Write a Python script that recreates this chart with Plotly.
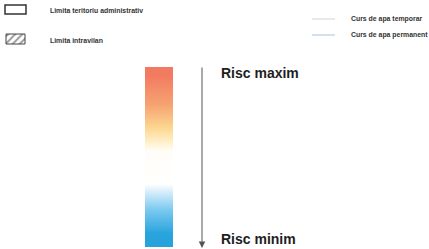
import plotly.graph_objects as go
import numpy as np

# Data: risk scale levels (top = max, bottom = min)
risk_levels = [10, 9, 8, 7, 6, 5, 4, 3, 2, 1, 0]
risk_labels = ["Risc maxim", "Risc minim"]
legend_left = ["Limita teritoriu administrativ", "Limita intravilan"]
legend_right = ["Curs de apa temporar", "Curs de apa permanent"]

colorscale = [
    [0.0, "#26a2dd"],
    [0.04, "#2aa4de"],
    [0.18, "#7ccaf0"],
    [0.29, "#d6edf9"],
    [0.34, "#ffffff"],
    [0.54, "#fffdf8"],
    [0.59, "#fff1cc"],
    [0.68, "#fcd690"],
    [0.82, "#f6a472"],
    [1.0, "#f27a61"],
]

fig = go.Figure()

# gradient bar
n = len(risk_levels)
y0, y1 = 67, 247
yedges = list(np.linspace(y0, y1, n + 1))
fig.add_trace(go.Heatmap(
    x=[145, 173], y=yedges, z=[[v] for v in risk_levels],
    zmin=0, zmax=10, colorscale=colorscale, zsmooth="best", showscale=False,
    hoverinfo="skip",
))

font_big = dict(family="Liberation Sans, Arial", size=14, color="#1e1e1e", weight="bold")
font_small = dict(family="Liberation Sans, Arial", size=6.9, color="#333333", weight="bold")

# arrow
fig.add_annotation(x=202, y=248, ax=202, ay=66, xref="x", yref="y", axref="x", ayref="y",
                   showarrow=True, arrowhead=2, arrowsize=1.3, arrowwidth=1, arrowcolor="#555555", text="")
fig.add_annotation(x=219, y=73, text=risk_labels[0], showarrow=False, xanchor="left", yanchor="middle",
                   font=font_big)
fig.add_annotation(x=219, y=239, text=risk_labels[1], showarrow=False, xanchor="left", yanchor="middle",
                   font=font_big)

# left legend
fig.add_shape(type="rect", x0=5, x1=26, y0=5, y1=14, line=dict(color="#333333", width=1.5), fillcolor="white")
fig.add_trace(go.Scatter(x=[6, 25, 25, 6, 6], y=[34, 34, 44, 44, 34], mode="lines", fill="toself",
                         fillcolor="white", line=dict(color="#444444", width=1),
                         fillpattern=dict(shape="/", fgcolor="#333333", bgcolor="white", size=5, solidity=0.4),
                         hoverinfo="skip", showlegend=False))
fig.add_annotation(x=48, y=10, text=legend_left[0], showarrow=False, xanchor="left", yanchor="middle",
                   font=font_small)
fig.add_annotation(x=48, y=40, text=legend_left[1], showarrow=False, xanchor="left", yanchor="middle",
                   font=font_small)

# right legend
fig.add_shape(type="line", x0=312, x1=335, y0=19, y1=19, line=dict(color="#dde3ea", width=1.5))
fig.add_shape(type="line", x0=312, x1=335, y0=35, y1=35, line=dict(color="#c6d6e6", width=1.5))
fig.add_annotation(x=349, y=19, text=legend_right[0], showarrow=False, xanchor="left", yanchor="middle",
                   font=font_small)
fig.add_annotation(x=349, y=35, text=legend_right[1], showarrow=False, xanchor="left", yanchor="middle",
                   font=font_small)

fig.update_xaxes(range=[0, 429], visible=False, fixedrange=True)
fig.update_yaxes(range=[249, 0], visible=False, fixedrange=True)
fig.update_layout(width=429, height=249, margin=dict(l=0, r=0, t=0, b=0),
                  plot_bgcolor="white", paper_bgcolor="white", showlegend=False)

fig.write_html("out.html", config={"displayModeBar": False},
               post_script="document.body.style.margin='0px';document.body.style.overflow='hidden';")
